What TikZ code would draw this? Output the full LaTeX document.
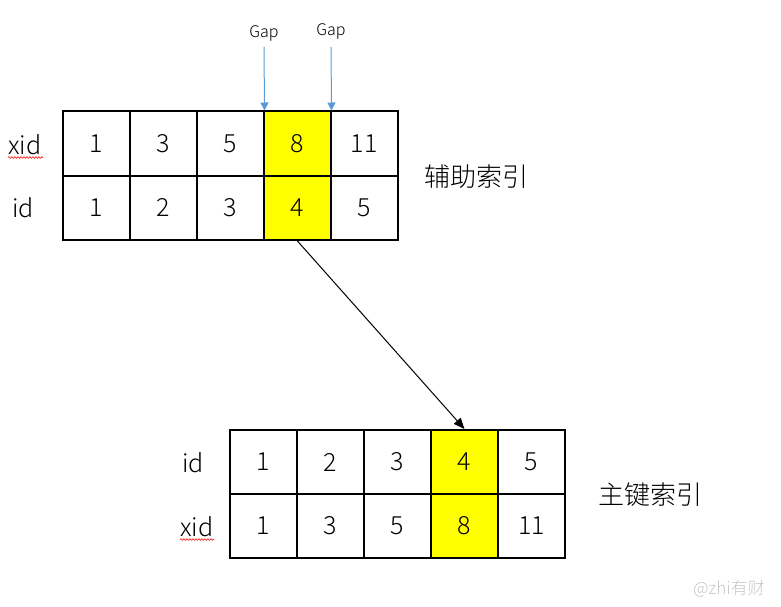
\documentclass[tikz,border=0pt]{standalone}
\usepackage{fontspec}
\setmainfont{Noto Sans CJK SC}[UprightFont=* Light]
\usetikzlibrary{arrows.meta,decorations.pathmorphing}
\definecolor{gapblue}{HTML}{5B9BD5}
\definecolor{hl}{HTML}{FFFF00}
\tikzset{
  cell/.style={draw=black,line width=2pt,minimum width=67pt,minimum height=64pt,inner sep=0pt,font=\fontsize{25}{28}\selectfont},
  hlcell/.style={cell,fill=hl},
  rowlab/.style={font=\fontsize{25}{28}\selectfont,inner sep=0pt},
  cjklab/.style={font=\fontsize{26}{30}\selectfont,inner sep=0pt},
  gaplab/.style={font=\fontsize{16}{18}\selectfont,inner sep=0pt},
  gaparrow/.style={draw=gapblue,line width=1pt,-{Triangle[length=8pt,width=8pt]}},
  mainarrow/.style={draw=black,line width=1pt,-{Triangle[length=11pt,width=9pt]}},
  squiggle/.style={draw=red,line width=0.6pt,decorate,decoration={snake,amplitude=0.8pt,segment length=3pt}}
}
\begin{document}
\begin{tikzpicture}[x=1pt,y=-1pt]
\useasboundingbox (0,0) rectangle (781,607);
% top table (secondary index)
\foreach \i/\xx/\v/\w in {1/96/1/1,2/163/3/2,3/230/5/3,5/364/11/5}{
  \node[cell] (tx\i) at (\xx,143.5) {\v};
  \node[cell] (ti\i) at (\xx,207.5) {\w};
}
\node[hlcell] (tx4) at (297,143.5) {8};
\node[hlcell] (ti4) at (297,207.5) {4};
\node[rowlab] (lxid1) at (25,145) {xid};
\node[rowlab] (lid1) at (23,208) {id};
\node[cjklab] (sec) at (476,177) {辅助索引};
% gap labels and arrows
\node[gaplab] (gap1) at (264,33) {Gap};
\node[gaplab] (gap2) at (331,31) {Gap};
\coordinate (ga1) at (264,47);
\coordinate (ga2) at (331,47);
\draw[gaparrow] (ga1) -- (tx3.north east);
\draw[gaparrow] (ga2) -- (tx4.north east);
% bottom table (primary index)
\foreach \i/\xx/\v/\w in {1/263.5/1/1,2/330.5/2/3,3/397.5/3/5,5/531.5/5/11}{
  \node[cell] (bi\i) at (\xx,462) {\v};
  \node[cell] (bx\i) at (\xx,526) {\w};
}
\node[hlcell] (bi4) at (464.5,462) {4};
\node[hlcell] (bx4) at (464.5,526) {8};
\node[rowlab] (lid2) at (193,463) {id};
\node[rowlab] (lxid2) at (197,527) {xid};
\node[cjklab] (pri) at (650,495) {主键索引};
% main arrow
\draw[mainarrow] (ti4.south) -- (bi4.north);
% spell-check squiggles
\coordinate (sq1a) at (8,157.5);
\coordinate (sq1b) at (43,157.5);
\coordinate (sq2a) at (180,539.5);
\coordinate (sq2b) at (214,539.5);
\draw[squiggle] (sq1a) -- (sq1b);
\draw[squiggle] (sq2a) -- (sq2b);
% watermark
\node[font=\fontsize{17}{20}\selectfont,text=gray!45,inner sep=0pt] (wm) at (729,589) {@zhi有财};
\end{tikzpicture}
\end{document}
